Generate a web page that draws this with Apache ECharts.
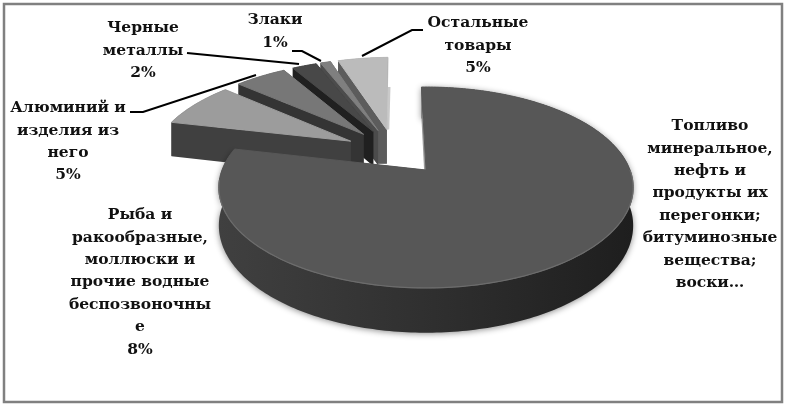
<!DOCTYPE html>
<html>
<head>
<meta charset="utf-8">
<style>
  html, body { margin: 0; padding: 0; background: #fff; }
  #main { width: 787px; height: 406px; }
</style>
<script src="https://cdn.jsdelivr.net/npm/echarts@6/dist/echarts.min.js"></script>
</head>
<body>
<div id="main"></div>
<script>
// данные диаграммы
const categories = [
  'Топливо\nминеральное,\nнефть и\nпродукты их\nперегонки;\nбитуминозные\nвещества;\nвоски…',
  'Рыба и\nракообразные,\nмоллюски и\nпрочие водные\nбеспозвоночны\nе',
  'Алюминий и\nизделия из\nнего',
  'Черные\nметаллы',
  'Злаки',
  'Остальные\nтовары'
];
const values = [79, 7.7, 5, 2.4, 1, 4.9];
const showPercent = [false, true, true, true, true, true];

// оформление срезов
const topColors = ['#575757', '#9c9c9c', '#777777', '#484848', '#7f7f7f', '#bbbbbb'];
const sideColors = ['#2c2c2c', '#404040', '#343434', '#202020', '#4c4c4c', '#5c5c5c'];
const startSideColors = ['#9a9a9a', '#404040', '#343434', '#202020', '#4c4c4c', '#5c5c5c'];

// проекция псевдо-3D
const CX = 426, CY = 170, RX = 204, RY = 97.4, PERSP = 0.174, DEPTH = 37;
const START_ANGLE = -1.5, EXPLODE = 0.255;

const total = values.reduce((a, b) => a + b, 0);
const rad = (d) => d * Math.PI / 180;

const sliceAngles = (i) => {
  let from = START_ANGLE;
  for (let k = 0; k < i; k++) from += values[k] / total * 360;
  return [from, from + values[i] / total * 360];
};

// смещение среза относительно вершины главного сектора
const sliceOffset = (i) => {
  const mid = (a) => (a[0] + a[1]) / 2;
  const m = rad(mid(sliceAngles(i)));
  const m0 = rad(mid(sliceAngles(0)));
  return [EXPLODE * (Math.sin(m) - Math.sin(m0)), EXPLODE * (Math.cos(m) - Math.cos(m0))];
};

const project = (X, Y, drop) => {
  const p = 1 / (1 + PERSP * Y);
  return [CX + RX * X * p, CY - RY * Y * p + (drop || 0) * p];
};

const renderSlice = (params, api) => {
  const i = api.value(0);
  const [from, to] = sliceAngles(i);
  const [ox, oy] = sliceOffset(i);
  const at = (deg, drop) => project(ox + Math.sin(rad(deg)), oy + Math.cos(rad(deg)), drop);
  const apex = project(ox, oy, 0);
  const apexLow = project(ox, oy, DEPTH);

  const arcTop = [], arcLow = [];
  for (let a = from; a < to; a += 1) {
    arcTop.push(at(a, 0));
    arcLow.push(at(a, DEPTH));
  }
  arcTop.push(at(to, 0));
  arcLow.push(at(to, DEPTH));

  const isMain = i === 0;
  const isLast = i === values.length - 1;
  const wallFill = isMain
    ? new echarts.graphic.LinearGradient(0, 0, 1, 0, [
        { offset: 0, color: '#404040' },
        { offset: 0.55, color: '#2e2e2e' },
        { offset: 1, color: '#1e1e1e' }
      ])
    : sideColors[i];

  const children = [
    {
      type: 'polygon',
      shape: { points: arcTop.concat(arcLow.slice().reverse()) },
      style: isMain
        ? { fill: wallFill, shadowBlur: 6, shadowColor: 'rgba(0,0,0,0.45)', shadowOffsetY: 1 }
        : { fill: wallFill }
    }
  ];

  if (isLast) {
    // светлая полоска торца и тёмный столбик у вершины
    const low = at(to, DEPTH);
    children.push({
      type: 'polygon',
      shape: { points: [apex, low, [low[0] + 2.5, low[1]], [apex[0] + 2.5, apex[1]]] },
      style: { fill: '#c9c9c9' }
    });
    children.push({
      type: 'polygon',
      shape: { points: [apex, apexLow, [apexLow[0] - 10, apexLow[1]], [apex[0] - 10, apex[1]]] },
      style: { fill: sideColors[i] }
    });
  } else {
    children.push({
      type: 'polygon',
      shape: { points: [apex, at(to, 0), at(to, DEPTH), apexLow] },
      style: { fill: sideColors[i] }
    });
  }

  children.push({
    type: 'polygon',
    shape: { points: [apex, at(from, 0), at(from, DEPTH), apexLow] },
    style: { fill: startSideColors[i] }
  });
  children.push({
    type: 'polygon',
    shape: { points: [apex].concat(arcTop) },
    style: { fill: topColors[i], stroke: topColors[i], lineWidth: 1 }
  });

  if (isMain) {
    // светлый край на передней дуге
    const rim = [];
    for (let a = 90; a <= 264; a += 2) rim.push(at(a, 0));
    children.push({
      type: 'polyline',
      shape: { points: rim },
      style: { stroke: '#6c6c6c', lineWidth: 1.2, fill: 'none' }
    });
  }
  return { type: 'group', children: children };
};

// подписи и выноски
const labelAt = [
  { x: 710, y: 115 },
  { x: 140, y: 204 },
  { x: 68, y: 97 },
  { x: 143, y: 17 },
  { x: 275, y: 9 },
  { x: 478, y: 12 }
];
const leaders = [
  null,
  null,
  [[130, 112], [143, 112], [256, 75]],
  [[187, 53], [299, 64]],
  [[292, 51], [302, 51], [321, 61]],
  [[362, 56], [412, 30], [423, 30]]
];

const graphics = [
  {
    type: 'rect',
    shape: { x: 4, y: 4, width: 778, height: 398 },
    style: { fill: 'none', stroke: '#808080', lineWidth: 2.5 },
    silent: true
  }
];
categories.forEach((name, i) => {
  graphics.push({
    type: 'text',
    x: labelAt[i].x,
    y: labelAt[i].y,
    z: 10,
    style: {
      text: showPercent[i] ? name + '\n' + Math.round(values[i]) + '%' : name,
      font: 'bold 15.5px "DejaVu Serif"',
      fill: '#111111',
      align: 'center',
      verticalAlign: 'top',
      lineHeight: 22.4
    }
  });
  if (leaders[i]) {
    graphics.push({
      type: 'polyline',
      z: 10,
      shape: { points: leaders[i] },
      style: { stroke: '#000000', lineWidth: 2, fill: 'none' }
    });
  }
});

const chart = echarts.init(document.getElementById('main'));
chart.setOption({
  backgroundColor: '#ffffff',
  animation: false,
  graphic: graphics,
  series: [
    {
      type: 'custom',
      coordinateSystem: 'none',
      silent: true,
      renderItem: renderSlice,
      // от дальнего среза к ближнему
      data: values.map((v, i) => [i, v]).reverse()
    }
  ]
});
</script>
</body>
</html>
